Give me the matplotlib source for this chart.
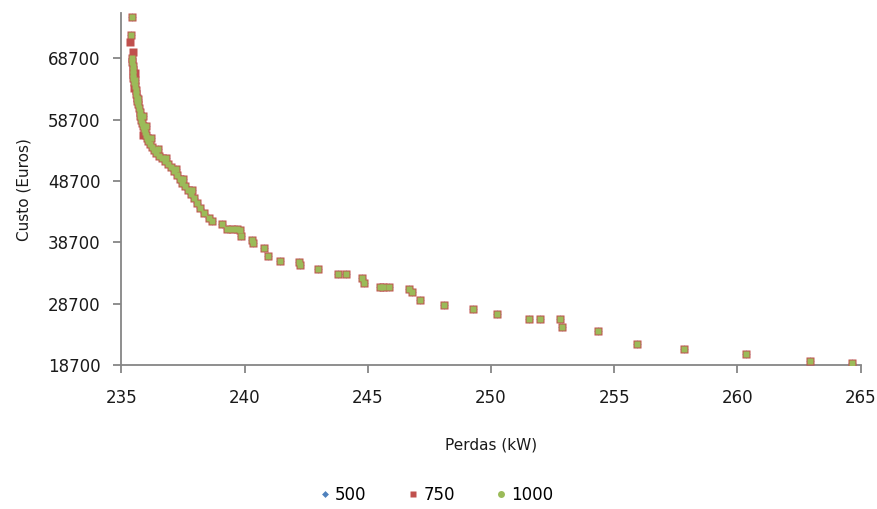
import matplotlib
matplotlib.use("Agg")
import matplotlib.pyplot as plt
from matplotlib.lines import Line2D

# Pareto front: losses (kW) vs cost (Euros) for three population sizes
perdas_1000 = [
    235.446, 235.394, 235.434, 235.434, 235.455, 235.475, 235.475, 235.495,
    235.515, 235.556, 235.597, 235.597, 235.637, 235.657, 235.678, 235.718,
    235.759, 235.779, 235.800, 235.840, 235.881, 235.921, 235.962, 236.002,
    236.043, 236.084, 236.165, 236.246, 236.327, 236.408, 236.530, 236.652,
    236.774, 236.895, 237.017, 237.139, 237.261, 237.383, 237.463, 237.585,
    237.707, 237.829, 237.950, 238.072, 238.20, 238.36, 238.56, 238.68,
    239.09, 239.29, 239.49, 239.70, 239.82, 239.86, 240.31, 240.35,
    240.79, 240.95, 241.44, 242.21, 242.25, 242.98, 243.79, 244.12,
    244.77, 244.85, 245.50, 245.62, 245.87, 246.68, 246.80, 247.12,
    248.10, 249.27, 250.25, 251.55, 251.99, 252.80, 252.89, 254.35,
    255.93, 257.84, 260.35, 262.95, 264.65,
    235.560, 235.690, 235.880, 236.000, 236.220, 236.480, 236.830,
    237.200, 237.520, 237.880,
]
custo_1000 = [
    75410, 72523, 68772, 68119, 67467, 66815, 66162, 65510,
    64857, 64205, 63553, 62900, 62248, 61758, 61269, 60617,
    59964, 59312, 58660, 58170, 57681, 57192, 56702, 56213,
    55724, 55234, 54745, 54256, 53767, 53277, 52788, 52462,
    51972, 51483, 50994, 50341, 49689, 49037, 48384, 47895,
    47243, 46590, 45938, 45122, 44307, 43491, 42676, 42186,
    41697, 40882, 40882, 40882, 40719, 39740, 39088, 38598,
    37783, 36478, 35662, 35499, 35010, 34358, 33542, 33542,
    32890, 32074, 31422, 31422, 31422, 31096, 30606, 29302,
    28486, 27834, 27018, 26203, 26203, 26203, 24898, 24245,
    22125, 21310, 20494, 19352, 19026,
    65200, 62100, 59300, 57700, 55800, 53900, 52400,
    50700, 49000, 47300,
]

# solutions reached only with a population of 750
perdas_750_extra = [235.353, 235.455, 235.556, 235.536, 235.881]
custo_750_extra = [71381, 69750, 66325, 63879, 56213]

perdas_750 = perdas_1000 + perdas_750_extra
custo_750 = custo_1000 + custo_750_extra

perdas_500 = list(perdas_1000)
custo_500 = list(custo_1000)

series_labels = ["500", "750", "1000"]
x_ticks = [235, 240, 245, 250, 255, 260, 265]
y_ticks = [18700, 28700, 38700, 48700, 58700, 68700]

c_blue = "#4f81bd"
c_red = "#c0504d"
c_green = "#9bbb59"
c_axis = "#868686"

fig = plt.figure(figsize=(8.77, 5.09), dpi=100)
ax = fig.add_axes([0.1383, 0.2829, 0.8430, 0.6910])

ax.plot(perdas_500, custo_500, linestyle="none", marker="D", ms=4.0,
        color=c_blue, mec="none", zorder=2)
ax.plot(perdas_750, custo_750, linestyle="none", marker="s", ms=5.4,
        color=c_red, mec="none", zorder=3)
ax.plot(perdas_1000, custo_1000, linestyle="none", marker="s", ms=4.7,
        color=c_green, mec="none", zorder=4)

ax.set_xlim(235, 265)
ax.set_ylim(18700, 76060)
ax.set_xticks(x_ticks)
ax.set_yticks(y_ticks)
ax.set_xticklabels([str(v) for v in x_ticks])
ax.set_yticklabels([str(v) for v in y_ticks])

for side in ("top", "right"):
    ax.spines[side].set_visible(False)
for side in ("left", "bottom"):
    ax.spines[side].set_color(c_axis)
    ax.spines[side].set_linewidth(1.3)

ax.tick_params(axis="both", direction="out", length=6, width=1.3,
               color=c_axis, labelsize=12, labelcolor="#1a1a1a")
ax.tick_params(axis="x", pad=11)
ax.tick_params(axis="y", pad=9)

ax.set_xlabel("Perdas (kW)", fontsize=11, color="#1a1a1a", labelpad=22)
ax.set_ylabel("Custo (Euros)", fontsize=11, color="#1a1a1a", labelpad=12)

handles = [
    Line2D([], [], linestyle="none", marker="D", ms=3.5, color=c_blue, mec="none"),
    Line2D([], [], linestyle="none", marker="s", ms=5, color=c_red, mec="none"),
    Line2D([], [], linestyle="none", marker="o", ms=5, color=c_green, mec="none"),
]
fig.legend(handles, series_labels, loc="center", bbox_to_anchor=(0.498, 0.027),
           ncol=3, frameon=False, fontsize=12, handlelength=0.6,
           handletextpad=0.3, columnspacing=2.5)

fig.savefig("out.png", dpi=100, facecolor="white")
